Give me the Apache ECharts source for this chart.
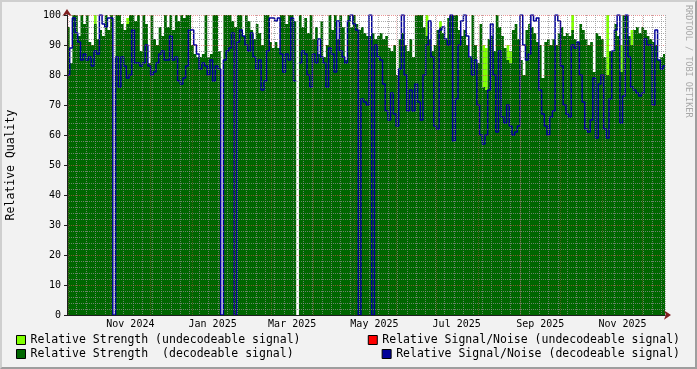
<!DOCTYPE html>
<html><head><meta charset="utf-8">
<script src="https://cdn.jsdelivr.net/npm/echarts@6/dist/echarts.min.js"></script>
<style>
html,body{margin:0;padding:0;background:#f2f2f2;}
#wrap{position:relative;width:697px;height:369px;}
#chart{position:absolute;left:0;top:0;width:697px;height:369px;}
#frame{position:absolute;left:0;top:0;width:697px;height:369px;box-sizing:border-box;border-style:solid;border-width:2px;border-color:#cfcfcf #9e9e9e #9e9e9e #cfcfcf;pointer-events:none;}
</style></head><body>
<div id="wrap"><div id="chart"></div><div id="frame"></div></div>
<script>
const _ = null;
const startDate = '2024-09-30';
const stepDays = 2;
const axisDays = 443.5;

const strengthDecodeable = [
 96,84,100,100,93,100,97,100,91,90,
 97,92,95,93,100,95,100,_,100,100,
 97,95,97,100,100,98,100,88,100,97,
 84,100,92,90,96,93,100,96,100,95,
 100,98,100,99,100,100,90,87,86,86,
 87,100,86,87,100,100,88,_,100,100,
 100,98,96,100,100,93,100,98,95,92,
 97,94,90,100,100,91,89,91,89,100,
 100,97,100,100,98,_,100,96,99,94,
 100,92,96,87,98,86,90,100,95,100,
 92,100,96,85,100,96,100,97,95,96,
 94,93,93,94,92,93,94,92,93,89,
 88,90,80,92,94,90,88,92,86,100,
 100,100,96,93,92,88,90,95,96,94,
 92,99,100,100,100,95,93,95,90,86,
 100,90,84,97,76,75,92,93,88,100,
 96,93,89,85,84,95,97,92,85,80,
 95,97,96,94,91,90,79,91,92,90,
 92,90,94,96,93,94,93,95,92,91,
 97,95,92,90,91,81,94,93,92,86,
 80,88,88,97,93,81,100,100,93,90,
 95,96,94,96,95,93,92,91,90,85,
 86,87
];

const snrDecodeable = [
 80,89,99,94,91,85,87,85,86,83,
 88,87,100,97,96,99,99,0,86,76,
 86,83,79,80,95,84,84,83,84,90,
 83,80,81,84,87,88,85,85,93,85,
 86,78,77,79,83,95,95,90,87,82,
 84,83,80,85,78,83,82,0,85,88,
 89,94,0,91,95,93,90,88,94,86,
 82,85,75,78,88,99,99,98,99,87,
 81,87,85,99,78,_,84,88,87,80,
 76,87,84,92,86,84,76,89,87,81,
 98,88,86,84,98,100,97,95,0,72,
 71,70,100,0,90,86,85,77,68,65,
 74,67,63,82,100,80,68,75,68,77,
 71,65,80,90,98,86,63,62,95,96,
 92,90,100,58,72,90,98,100,93,86,
 80,85,70,60,57,60,75,97,80,61,
 88,66,64,70,63,60,61,63,100,90,
 85,87,100,98,99,75,67,63,60,66,
 68,100,98,83,70,67,66,90,89,91,
 80,71,62,61,65,79,59,77,80,62,
 59,72,88,95,100,64,73,100,86,76,
 75,74,73,74,92,90,90,70,95,85,
 82,83
];

const strengthUndecodeable = [
 _,_,_,_,_,_,_,_,_,_,
 100,_,_,_,_,_,_,_,_,_,
 _,_,99,_,_,_,_,_,_,_,
 _,_,_,_,_,_,_,_,_,_,
 _,_,_,_,_,_,_,_,_,_,
 _,_,_,_,_,_,_,_,_,_,
 _,_,_,_,_,_,_,_,_,_,
 _,_,_,_,_,_,_,_,_,_,
 _,_,_,_,_,_,_,_,_,_,
 _,_,_,_,_,_,_,_,_,_,
 _,_,_,_,_,_,_,_,_,_,
 _,_,_,_,_,_,_,_,_,_,
 _,_,_,_,_,_,_,_,_,_,
 _,_,_,100,_,_,_,_,98,_,
 _,_,_,_,_,_,_,_,_,_,
 _,_,_,_,90,89,_,_,_,_,
 _,_,_,90,88,_,_,_,_,_,
 _,_,_,_,_,_,_,_,_,_,
 _,_,_,_,_,_,_,100,_,_,
 _,_,_,_,_,_,_,_,_,_,
 100,_,_,_,_,90,_,_,_,95,
 _,_,_,_,_,_,_,_,_,_,
 _,_
];

const snrUndecodeable = [];

const tickLabels = ['Nov 2024','Jan 2025','Mar 2025','May 2025','Jul 2025','Sep 2025','Nov 2025'];
const tickMonths = ['2024-11-01','2025-01-01','2025-03-01','2025-05-01','2025-07-01','2025-09-01','2025-11-01'];

const names = {
  su: 'Relative Strength (undecodeable signal)',
  sd: 'Relative Strength  (decodeable signal)',
  nu: 'Relative Signal/Noise (undecodeable signal)',
  nd: 'Relative Signal/Noise (decodeable signal)'
};

const F = 'DejaVu Sans Mono';
const DAY = 86400000;
const t0 = Date.parse(startDate + 'T00:00:00Z');
const dayOf = s => (Date.parse(s + 'T00:00:00Z') - t0) / DAY;

const labelDays = tickMonths.map(m => dayOf(m) + 15);
const labelMap = {};
labelDays.forEach((d, i) => { labelMap[d] = tickLabels[i]; });

const monthStarts = [];
{
  const d = new Date(t0);
  let y = d.getUTCFullYear(), m = d.getUTCMonth() + 1;
  while (true) {
    const off = (Date.UTC(y, m, 1) - t0) / DAY;
    if (off > axisDays) break;
    monthStarts.push(off);
    m++; if (m > 11) { m = 0; y++; }
  }
}

function stepSeries(values) {
  const out = [];
  values.forEach((v, i) => {
    const d0 = i * stepDays, d1 = Math.min((i + 1) * stepDays, axisDays);
    if (v == null) { out.push([d0, null]); return; }
    out.push([d0, v], [d1, v]);
  });
  return out;
}

const gridMinor = 'rgba(143,143,143,0.75)';
const gridMajor = 'rgba(222,79,79,0.6)';
const gridMajorV = 'rgba(222,79,79,0.33)';

const chart = echarts.init(document.getElementById('chart'), null, {renderer: 'canvas'});
const legendBase = {
  padding: 0, icon: 'rect', itemWidth: 9, itemHeight: 9, selectedMode: false,
  itemStyle: {borderColor: '#000', borderWidth: 1},
  textStyle: {fontFamily: F, fontSize: 11.5, color: '#000'}
};
const markLineBase = {
  silent: true, symbol: ['none', 'none'], label: {show: false}, animation: false,
  lineStyle: {color: gridMajorV, type: [1, 1], width: 1}
};
chart.setOption({
  animation: false,
  backgroundColor: '#f2f2f2',
  grid: {left: 67, right: 32, top: 15, bottom: 54, containLabel: false, outerBoundsMode: 'none',
         show: true, backgroundColor: '#ffffff', borderWidth: 0},
  legend: [
    Object.assign({}, legendBase, {left: 16, top: 334, data: [names.su]}),
    Object.assign({}, legendBase, {left: 16, top: 348, data: [names.sd]}),
    Object.assign({}, legendBase, {right: 17, top: 334, data: [names.nu]}),
    Object.assign({}, legendBase, {right: 17, top: 348, data: [names.nd]})
  ],
  graphic: [{
    type: 'text', x: 688, y: 5, rotation: -Math.PI / 2, silent: true,
    style: {text: 'RRDTOOL / TOBI OETIKER', fill: '#a8a8a8', font: '8.5px "DejaVu Sans Mono"',
            textAlign: 'left', textVerticalAlign: 'middle'}
  }],
  xAxis: [{
    type: 'value', min: 0, max: axisDays, interval: 7, z: 5,
    axisLine: {show: true, onZero: false, lineStyle: {color: '#1f1f1f', width: 1}},
    axisTick: {show: false},
    axisLabel: {show: true, customValues: labelDays, formatter: v => labelMap[v] || '',
                color: '#000', fontFamily: F, fontSize: 10, margin: 4},
    splitLine: {show: true, lineStyle: {color: gridMinor, type: [1, 1], width: 1}}
  }, {
    type: 'value', min: 0, max: axisDays, position: 'bottom', z: 4,
    axisLine: {show: true, onZero: false, symbol: ['none', 'arrow'], symbolSize: [7, 7], symbolOffset: [0, 6],
               lineStyle: {color: '#801f1f', width: 1}},
    axisTick: {show: false}, axisLabel: {show: false}, splitLine: {show: false}
  }],
  yAxis: [{
    type: 'value', min: 0, max: 100, interval: 10, z: 5,
    name: 'Relative Quality', nameLocation: 'middle', nameGap: 50, nameRotate: 90,
    nameTextStyle: {fontFamily: F, fontSize: 11.5, color: '#000'},
    axisLine: {show: true, onZero: false, lineStyle: {color: '#1f1f1f', width: 1}},
    axisTick: {show: true, length: 3, lineStyle: {color: '#1f1f1f'}},
    axisLabel: {color: '#000', fontFamily: F, fontSize: 10, margin: 6},
    splitLine: {show: true, lineStyle: {color: gridMajor, type: [1, 1], width: 1}},
    minorTick: {show: false, splitNumber: 5},
    minorSplitLine: {show: true, lineStyle: {color: gridMinor, type: [1, 1], width: 1}}
  }, {
    type: 'value', min: 0, max: 100, position: 'left', z: 4,
    axisLine: {show: true, onZero: false, symbol: ['none', 'arrow'], symbolSize: [7, 7], symbolOffset: [0, 6],
               lineStyle: {color: '#801f1f', width: 1}},
    axisTick: {show: false}, axisLabel: {show: false}, splitLine: {show: false}
  }],
  series: [{
    name: names.su, type: 'line', color: '#80ff00', z: 1, showSymbol: false, silent: true,
    data: stepSeries(strengthUndecodeable), connectNulls: false,
    lineStyle: {width: 0, opacity: 0}, areaStyle: {color: '#80ff00', opacity: 1}
  }, {
    name: names.sd, type: 'line', color: '#006600', z: 2, showSymbol: false, silent: true,
    data: stepSeries(strengthDecodeable), connectNulls: false,
    lineStyle: {width: 0, opacity: 0}, areaStyle: {color: '#006600', opacity: 1}
  }, {
    name: names.nu, type: 'line', color: '#ff0000', z: 3, showSymbol: false, silent: true,
    data: stepSeries(snrUndecodeable), lineStyle: {width: 1, color: '#ff0000'}
  }, {
    name: names.nd, type: 'line', color: '#000099', z: 3, showSymbol: false, silent: true,
    data: stepSeries(snrDecodeable), connectNulls: false,
    lineStyle: {width: 1.5, color: '#000099'},
    markLine: Object.assign({}, markLineBase, {data: monthStarts.map(d => ({xAxis: d}))})
  }]
});

const snapped = monthStarts.map(d => {
  const px = chart.convertToPixel({xAxisIndex: 0}, d);
  return chart.convertFromPixel({xAxisIndex: 0}, Math.floor(px) + 0.5);
});
chart.setOption({series: [{name: names.nd,
  markLine: Object.assign({}, markLineBase, {data: snapped.map(d => ({xAxis: d}))})}]});
</script>
</body></html>
